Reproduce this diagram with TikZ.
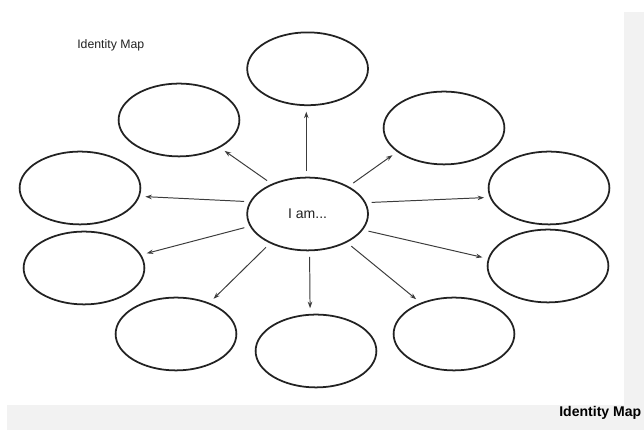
\documentclass[tikz,border=0pt]{standalone}
\usepackage{fontspec}
\setmainfont{Liberation Sans}
\usepackage{tikz}
\usetikzlibrary{shapes.geometric, arrows.meta}

\definecolor{inkgray}{RGB}{34, 34, 34}
\definecolor{linkgray}{RGB}{60, 60, 60}
\definecolor{panelgray}{RGB}{242, 242, 242}

\begin{document}
\begin{tikzpicture}[
    bubble/.style={ellipse, draw=inkgray, line width=1.25pt, inner sep=0pt,
      minimum width=3.02cm, minimum height=1.82cm},
    link/.style={draw=linkgray, line width=0.7pt, -{Stealth[length=4.6pt, width=3.2pt]},
      shorten <=4pt, shorten >=4pt}
  ]
  \useasboundingbox (0, 0) rectangle (16.1, 10.75);

  % Page background strips
  \fill[panelgray] (15.6, 0.625) rectangle (16.1, 10.45);
  \fill[panelgray] (0.175, 0) rectangle (16.1, 0.625);

  % Titles
  \node[font=\fontsize{8.75}{10}\selectfont, text=inkgray, anchor=west, inner sep=0pt] (title) at (1.925, 9.625) {Identity Map};
  \node[font=\fontsize{10}{12}\selectfont\bfseries, anchor=west, inner sep=0pt] (caption) at (13.975, 0.425) {Identity Map};

  % Centre
  \node[bubble, font=\fontsize{10}{12}\selectfont, text=inkgray] (self) at (7.69, 5.40) {I am...};

  % Outer bubbles
  \node[bubble] (top) at (7.69, 9.03) {};
  \node[bubble] (upleft) at (4.475, 7.75) {};
  \node[bubble] (upright) at (11.10, 7.55) {};
  \node[bubble] (left) at (2.00, 6.05) {};
  \node[bubble] (right) at (13.725, 6.05) {};
  \node[bubble] (lowleft) at (2.10, 4.05) {};
  \node[bubble] (lowright) at (13.70, 4.10) {};
  \node[bubble] (botleft) at (4.40, 2.40) {};
  \node[bubble] (bottom) at (7.90, 1.975) {};
  \node[bubble] (botright) at (11.35, 2.40) {};

  % Arrows out of the centre
  \draw[link] (self.92) -- (top.-92);
  \draw[link] (self.140) -- (upleft.-34);
  \draw[link] (self.168) -- (left.-8);
  \draw[link] (self.-168) -- (lowleft.13);
  \draw[link] (self.-142) -- (botleft.43);
  \draw[link] (self.-87) -- (bottom.99);
  \draw[link] (self.-36) -- (botright.137);
  \draw[link] (self.-16) -- (lowright.173);
  \draw[link] (self.11) -- (right.-171);
  \draw[link] (self.34) -- (upright.-153);
\end{tikzpicture}
\end{document}
